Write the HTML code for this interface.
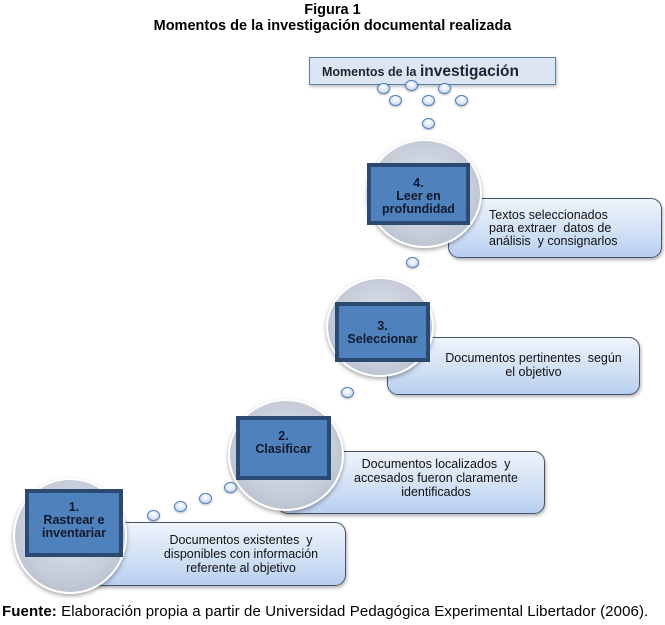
<!DOCTYPE html>
<html><head><meta charset="utf-8"><style>
body{margin:0;width:665px;height:625px;background:#fff;position:relative;overflow:hidden;font-family:"Liberation Sans",sans-serif}
.a{position:absolute}
.t{left:0;width:665px;text-align:center;font-weight:bold;font-size:14.5px;color:#000}
.c{position:absolute;border-radius:50%;background:radial-gradient(circle at 50% 45%,#dfe3ea 0%,#c5ccd8 60%,#aab4c4 100%);border:2px solid #fff;box-shadow:0 2px 4px rgba(0,0,0,.35)}
.s{position:absolute;box-sizing:border-box;background:#4f81bd;border:4px solid #2a4a72;color:#111a2a;font-weight:bold;font-size:12.5px;line-height:13px;text-align:center}
.b{position:absolute;box-sizing:border-box;border:1.5px solid #46546a;border-radius:11px;background:linear-gradient(180deg,#eef3fb 0%,#d2e1f5 55%,#b9cff0 100%);box-shadow:1px 2px 3px rgba(0,0,0,.3);font-size:12.5px;line-height:14px;color:#111;text-align:center}
.d{position:absolute;width:13px;height:11px;border-radius:50%;box-sizing:border-box;border:1.5px solid #4f81bd;background:radial-gradient(circle at 50% 35%,#fff,#bcd0ee);box-shadow:0 1px 2px rgba(0,0,0,.3)}
</style></head><body>
<div class="a t" style="top:2px">Figura 1</div>
<div class="a t" style="top:18px">Momentos de la investigación documental realizada</div>
<div class="a" style="left:309px;top:57px;width:247px;height:28px;box-sizing:border-box;background:#dce6f2;border:1.5px solid #5a7fa8;box-shadow:1px 2px 3px rgba(0,0,0,.25);font-weight:bold;font-size:12.5px;line-height:28px;padding-left:12px;color:#1b2535">Momentos de la <span style="font-size:15.5px">investigación</span></div>
<div class="d" style="left:377px;top:83px"></div>
<div class="d" style="left:405px;top:80px"></div>
<div class="d" style="left:438px;top:83px"></div>
<div class="d" style="left:389px;top:95px"></div>
<div class="d" style="left:422px;top:95px"></div>
<div class="d" style="left:455px;top:95px"></div>
<div class="d" style="left:422px;top:118px"></div>

<div class="b" style="left:448px;top:198px;width:214px;height:60px;padding:10px 0 0 40px;text-align:left;line-height:13px">Textos seleccionados<br>para extraer&nbsp; datos de<br>análisis&nbsp; y consignarlos</div>
<div class="c" style="left:367px;top:139px;width:111px;height:105px"></div>
<div class="s" style="left:367px;top:163px;width:103px;height:62px;padding-top:10px">4.<br>Leer en<br>profundidad</div>
<div class="d" style="left:406px;top:257px"></div>

<div class="b" style="left:387px;top:337px;width:253px;height:58px;padding:13px 0 0 40px">Documentos pertinentes&nbsp; según<br>el objetivo</div>
<div class="c" style="left:326px;top:277px;width:104px;height:96px"></div>
<div class="s" style="left:335px;top:302px;width:95px;height:60px;padding-top:14px">3.<br>Seleccionar</div>
<div class="d" style="left:341px;top:387px"></div>

<div class="b" style="left:277px;top:451px;width:268px;height:63px;padding:5px 0 0 50px">Documentos localizados&nbsp; y<br>accesados fueron claramente<br>identificados</div>
<div class="c" style="left:228px;top:399px;width:112px;height:108px"></div>
<div class="s" style="left:236px;top:416px;width:95px;height:64px;padding-top:10px">2.<br>Clasificar</div>
<div class="d" style="left:224px;top:482px"></div>
<div class="d" style="left:199px;top:493px"></div>
<div class="d" style="left:174px;top:501px"></div>
<div class="d" style="left:147px;top:510px"></div>

<div class="b" style="left:86px;top:522px;width:260px;height:64px;padding:10px 0 0 50px">Documentos existentes&nbsp; y<br>disponibles con información<br>referente al objetivo</div>
<div class="c" style="left:13px;top:478px;width:110px;height:112px"></div>
<div class="s" style="left:25px;top:489px;width:98px;height:68px;padding-top:8px">1.<br>Rastrear e<br>inventariar</div>

<div class="a" style="left:2px;top:603px;font-size:15px;color:#000;white-space:nowrap;letter-spacing:0.1px"><b>Fuente:</b> Elaboración propia a partir de Universidad Pedagógica Experimental Libertador (2006).</div>
</body></html>
